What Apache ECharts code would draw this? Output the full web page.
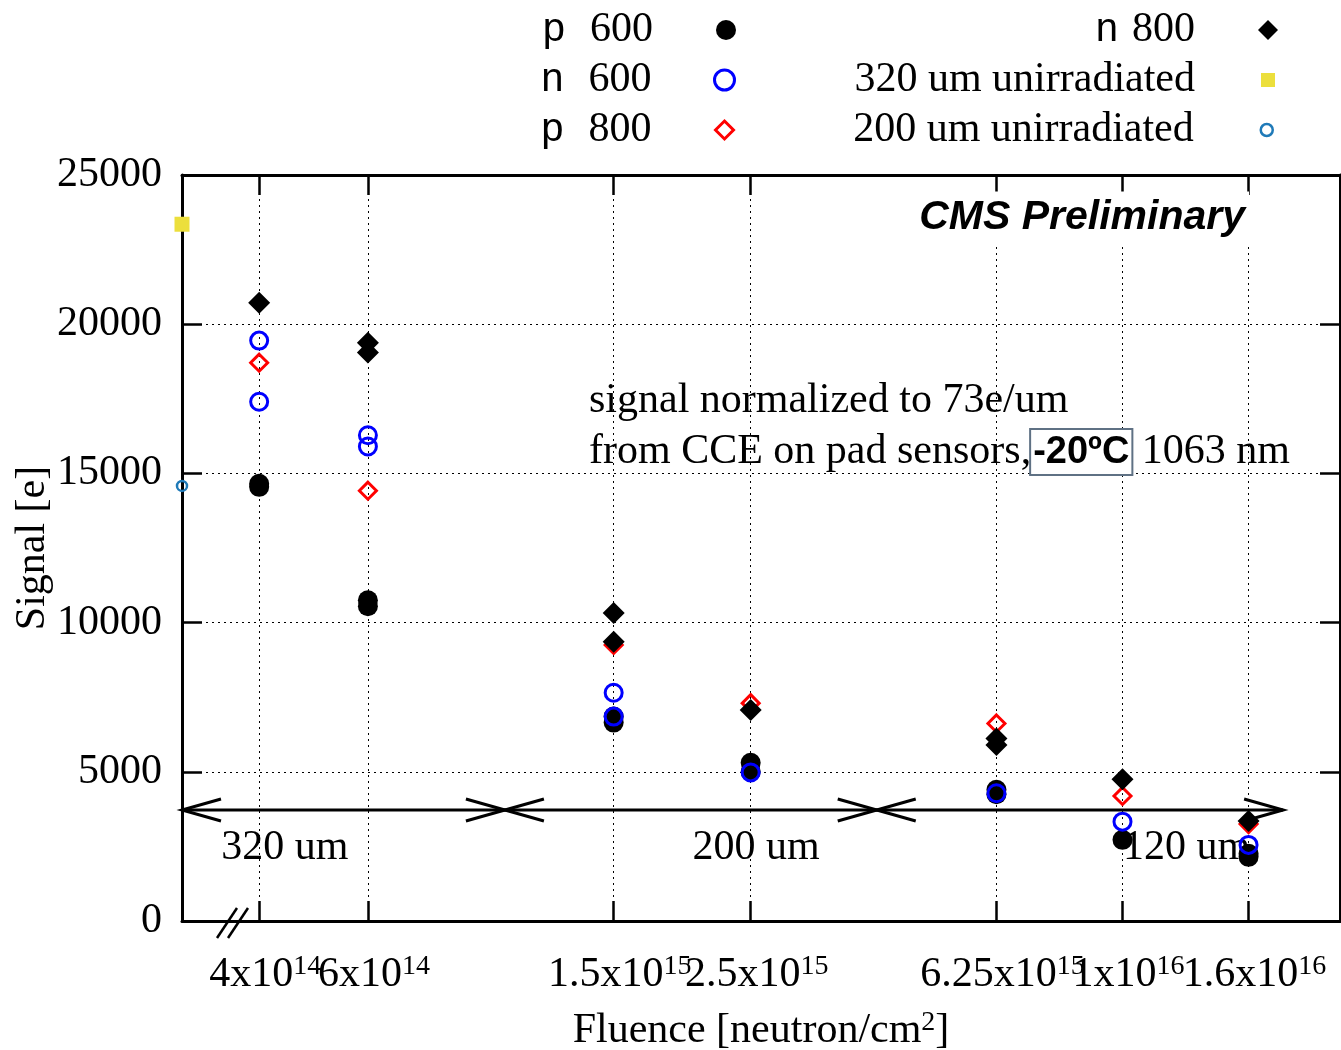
<!DOCTYPE html>
<html>
<head>
<meta charset="utf-8">
<script src="https://cdn.jsdelivr.net/npm/echarts@6/dist/echarts.min.js"></script>
<style>
html, body { margin: 0; padding: 0; background: #fff; }
#chart { width: 1341px; height: 1050px; }
</style>
</head>
<body>
<div id="chart"></div>
<script>
// fluence ticks [neutron/cm^2]
const fluenceTicks = [4e14, 6e14, 1.5e15, 2.5e15, 6.25e15, 1e16, 1.6e16];
const fluenceTickLabels = ['4x10{s|14}', '6x10{s|14}', '1.5x10{s|15}', '2.5x10{s|15}', '6.25x10{s|15}', '1x10{s|16}', '1.6x10{s|16}'];

// [fluence, signal in e]
const p600 = [[4e14, 14550], [4e14, 14650], [6e14, 10750], [6e14, 10550], [1.5e15, 6850], [1.5e15, 6650],
  [2.5e15, 5300], [2.5e15, 5000], [6.25e15, 4400], [6.25e15, 4250], [1e16, 2720], [1.6e16, 2250], [1.6e16, 2150]];
const n600 = [[4e14, 19450], [4e14, 17400], [6e14, 16280], [6e14, 15900], [1.5e15, 7650], [1.5e15, 6850],
  [2.5e15, 4980], [6.25e15, 4280], [1e16, 3330], [1.6e16, 2550]];
const p800 = [[4e14, 18710], [6e14, 14420], [1.5e15, 9250], [2.5e15, 7300], [6.25e15, 6620], [1e16, 4190], [1.6e16, 3250]];
const n800 = [[4e14, 20720], [6e14, 19380], [6e14, 19050], [1.5e15, 10320], [1.5e15, 9360], [2.5e15, 7070],
  [6.25e15, 6120], [6.25e15, 5900], [1e16, 4750], [1.6e16, 3350]];
const unirr320 = [[3e14, 23350]];
const unirr200 = [[3e14, 14580]];

// sensor thickness regions along the fluence axis
const regionBounds = [3e14, 1e15, 4e15, 1.82e16];
const regionLevel = 3720;
const regionLabels = ['320 um', '200 um', '120 um'];
const regionLabelAt = [4.4e14, 2.55e15, 1.27e16];
const regionLabelLevel = 2450;

const SERIF = "'Liberation Serif', 'Times New Roman', serif";
const SANS = "'Liberation Sans', Arial, sans-serif";
const FS = 42;

const chart = echarts.init(document.getElementById('chart'));

const tickLabel = (v) => {
  const i = fluenceTicks.findIndex(t => Math.abs(t - v) / t < 1e-6);
  return i < 0 ? '' : fluenceTickLabels[i];
};
// neighbouring tick labels touch, so they are split over two stacked axes
const labelsA = fluenceTicks.filter((_, i) => i % 2 === 0);
const labelsB = fluenceTicks.filter((_, i) => i % 2 === 1);

const gridDots = { type: [2, 4], color: '#000', width: 1 };
const frame = { color: '#000', width: 3 };
const tick = { color: '#000', width: 2.5 };
const supRich = { s: { fontFamily: SERIF, fontSize: 28, verticalAlign: 'top', lineHeight: 12, color: '#000' } };
const xLabel = (vals) => ({
  customValues: vals, formatter: tickLabel, margin: 32, showMinLabel: true, showMaxLabel: true,
  hideOverlap: false, padding: [0, 0, 0, 12],
  fontFamily: SERIF, fontSize: FS, color: '#000', lineHeight: 44, rich: supRich
});

// one legend per entry: text right-aligned to the left of its icon
const legendSpec = [
  { name: 'p 600', cx: 726, cy: 31, w: 20, h: 20, bw: 0, sp: 25 },
  { name: 'n 600', cx: 726, cy: 81, w: 20, h: 20, bw: 3, sp: 25 },
  { name: 'p 800', cx: 726, cy: 131, w: 18, h: 18, bw: 3, sp: 25 },
  { name: 'n 800', cx: 1268, cy: 31, w: 20, h: 20, bw: 0, sp: 14 },
  { name: '320 um unirradiated', cx: 1268, cy: 81, w: 14, h: 14, bw: 0, sp: 0 },
  { name: '200 um unirradiated', cx: 1268, cy: 131, w: 12, h: 12, bw: 2.5, sp: 0 }
];
const legends = legendSpec.map(s => ({
  data: [s.name],
  orient: 'vertical',
  align: 'right',
  right: 1341 - (s.cx + s.w / 2),
  top: s.cy - 22,
  padding: 0,
  itemWidth: s.w,
  itemHeight: s.h,
  selectedMode: false,
  itemStyle: { borderWidth: s.bw },
  formatter: (name) => {
    const m = name.match(/^([pn]) (\d+)$/);
    return m ? '{s|' + m[1] + '}{sp| }{d|' + m[2] + '}{g| }' : '{d|' + name + '}{g| }';
  },
  textStyle: {
    color: '#000', fontFamily: SERIF, fontSize: FS,
    rich: {
      s: { fontFamily: SANS, fontSize: 40, lineHeight: 44, color: '#000' },
      d: { fontFamily: SERIF, fontSize: FS, lineHeight: 44, color: '#000' },
      sp: { width: s.sp, lineHeight: 44 },
      g: { width: 68 - s.w / 2, lineHeight: 44 }
    }
  }
}));

const open = 'rgba(0,0,0,0)';
const logX = { type: 'log', logBase: 10, min: 3e14, max: 2.25e16 };

chart.setOption({
  animation: false,
  backgroundColor: '#fff',
  legend: legends,
  grid: { left: 182, right: 1, top: 175, bottom: 129, outerBoundsMode: 'none' },
  xAxis: [{
    ...logX, position: 'bottom',
    name: 'Fluence [neutron/cm{s|2}]', nameLocation: 'middle', nameGap: 88, nameMoveOverlap: false,
    nameTextStyle: { fontFamily: SERIF, fontSize: FS, lineHeight: 44, color: '#000', rich: supRich },
    axisLine: { show: true, onZero: false, lineStyle: frame },
    axisTick: { show: true, inside: true, length: 20, customValues: fluenceTicks, lineStyle: tick },
    minorTick: { show: false },
    axisLabel: xLabel(labelsA),
    splitLine: { show: true, lineStyle: gridDots },
    minorSplitLine: { show: false }
  }, {
    ...logX, position: 'top',
    axisLine: { show: true, onZero: false, lineStyle: frame },
    axisTick: { show: true, inside: true, length: 20, customValues: fluenceTicks, lineStyle: tick },
    minorTick: { show: false },
    axisLabel: { show: false },
    splitLine: { show: false }
  }, {
    ...logX, position: 'bottom', offset: 0,
    axisLine: { show: false, onZero: false },
    axisTick: { show: false },
    minorTick: { show: false },
    axisLabel: xLabel(labelsB),
    splitLine: { show: false }
  }],
  yAxis: [{
    type: 'value', min: 0, max: 25000, interval: 5000, position: 'left',
    name: 'Signal [e]', nameLocation: 'middle', nameGap: 128, nameRotate: 90, nameMoveOverlap: false,
    nameTextStyle: { fontFamily: SERIF, fontSize: FS, color: '#000' },
    axisLine: { show: true, onZero: false, lineStyle: frame },
    axisTick: { show: true, inside: true, length: 20, lineStyle: tick },
    axisLabel: { fontFamily: SERIF, fontSize: FS, color: '#000', margin: 20, formatter: (v) => String(v) },
    splitLine: { show: true, lineStyle: gridDots }
  }, {
    type: 'value', min: 0, max: 25000, interval: 5000, position: 'right',
    axisLine: { show: true, onZero: false, lineStyle: frame },
    axisTick: { show: true, inside: true, length: 20, lineStyle: tick },
    axisLabel: { show: false },
    splitLine: { show: false }
  }],
  graphic: [
    {
      type: 'text', x: 1249, y: 218, z: 10,
      style: { text: 'CMS Preliminary', font: 'italic bold 41px ' + SANS, fill: '#000',
        backgroundColor: '#fff', padding: [6, 4, 6, 4],
        align: 'right', verticalAlign: 'middle', textAlign: 'right', textVerticalAlign: 'middle' }
    },
    {
      type: 'text', x: 589, y: 401, z: 10,
      style: { text: 'signal normalized to 73e/um', font: FS + 'px ' + SERIF, fill: '#000',
        align: 'left', verticalAlign: 'middle', textAlign: 'left', textVerticalAlign: 'middle' }
    },
    {
      type: 'text', x: 589, y: 452, z: 10,
      style: {
        text: 'from CCE on pad sensors,{b|-20ºC} 1063 nm', font: FS + 'px ' + SERIF, fill: '#000',
        align: 'left', verticalAlign: 'middle', textAlign: 'left', textVerticalAlign: 'middle',
        rich: {
          b: { fontFamily: SANS, fontWeight: 'bold', fontSize: 38, color: '#000', backgroundColor: '#fff',
            borderColor: '#5f7184', borderWidth: 2, padding: [4, 2, 2, 2] }
        }
      }
    },
    { type: 'line', z: 10, shape: { x1: 217, y1: 938, x2: 237, y2: 908 }, style: { stroke: '#000', lineWidth: 2.5 } },
    { type: 'line', z: 10, shape: { x1: 228, y1: 938, x2: 248, y2: 908 }, style: { stroke: '#000', lineWidth: 2.5 } }
  ],
  series: [
    {
      type: 'custom', name: 'regions', z: 1, clip: false, silent: true,
      data: [[regionBounds[0], regionLevel]],
      renderItem: (params, api) => {
        const pts = regionBounds.map(f => api.coord([f, regionLevel]));
        const y = pts[0][1];
        const st = { stroke: '#000', lineWidth: 3, fill: 'none' };
        const kids = [{ type: 'line', shape: { x1: pts[0][0], y1: y, x2: pts[3][0], y2: y }, style: st }];
        kids.push({ type: 'polyline', shape: { points: [[pts[0][0] + 39, y - 11], [pts[0][0], y], [pts[0][0] + 39, y + 11]] }, style: st });
        kids.push({ type: 'polyline', shape: { points: [[pts[3][0] - 39, y - 11], [pts[3][0], y], [pts[3][0] - 39, y + 11]] }, style: st });
        [pts[1], pts[2]].forEach(p => {
          kids.push({ type: 'line', shape: { x1: p[0] - 39, y1: y - 11, x2: p[0] + 39, y2: y + 11 }, style: st });
          kids.push({ type: 'line', shape: { x1: p[0] - 39, y1: y + 11, x2: p[0] + 39, y2: y - 11 }, style: st });
        });
        regionLabels.forEach((t, i) => {
          const c = api.coord([regionLabelAt[i], regionLabelLevel]);
          kids.push({ type: 'text', style: { x: c[0], y: c[1], text: t, font: FS + 'px ' + SERIF, fill: '#000',
            align: 'center', verticalAlign: 'middle' } });
        });
        return { type: 'group', children: kids };
      }
    },
    { name: 'p 600', type: 'scatter', z: 2, clip: false, data: p600, symbol: 'circle', symbolSize: 20,
      itemStyle: { color: '#000', opacity: 1 } },
    { name: 'n 600', type: 'scatter', z: 3, clip: false, data: n600, symbol: 'circle', symbolSize: 17,
      itemStyle: { color: open, borderColor: '#0000ff', borderWidth: 3, opacity: 1 } },
    { name: 'p 800', type: 'scatter', z: 3, clip: false, data: p800, symbol: 'diamond', symbolSize: 17,
      itemStyle: { color: open, borderColor: '#ff0000', borderWidth: 3, opacity: 1 } },
    { name: 'n 800', type: 'scatter', z: 4, clip: false, data: n800, symbol: 'diamond', symbolSize: 22,
      itemStyle: { color: '#000', opacity: 1 } },
    { name: '320 um unirradiated', type: 'scatter', z: 4, clip: false, data: unirr320, symbol: 'rect', symbolSize: 15,
      itemStyle: { color: '#ecdf3c', opacity: 1 } },
    { name: '200 um unirradiated', type: 'scatter', z: 4, clip: false, data: unirr200, symbol: 'circle', symbolSize: 10,
      itemStyle: { color: open, borderColor: '#1f7ab8', borderWidth: 2.5, opacity: 1 } }
  ]
});
</script>
</body>
</html>
